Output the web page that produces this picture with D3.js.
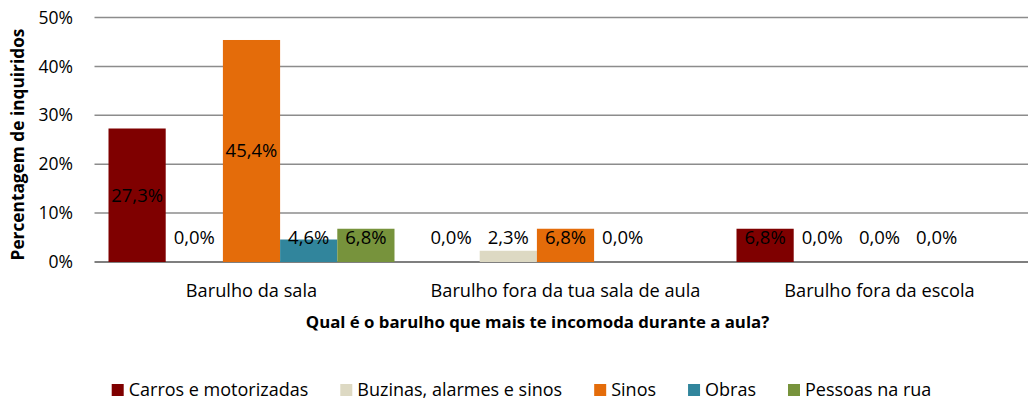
<!DOCTYPE html>
<html>
<head>
<meta charset="utf-8">
<script src="https://cdn.jsdelivr.net/npm/d3@7"></script>
<style>
  body { margin: 0; background: #fff; }
  svg { display: block; font-family: "Open Sans", sans-serif; }
</style>
</head>
<body>
<div id="chart"></div>
<script>
var categories = ["Barulho da sala", "Barulho fora da tua sala de aula", "Barulho fora da escola"];
var seriesNames = ["Carros e motorizadas", "Buzinas, alarmes e sinos", "Sinos", "Obras", "Pessoas na rua"];
var seriesColors = ["#7f0000", "#ddd9c3", "#e46c0a", "#31859c", "#77933c"];
// percentages per series, one per category (null = no value)
var carros = [27.3, 0.0, 6.8];
var buzinas = [0.0, 2.3, 0.0];
var sinos = [45.4, 6.8, 0.0];
var obras = [4.6, 0.0, 0.0];
var pessoas = [6.8, null, null];
var yTicks = [0, 10, 20, 30, 40, 50];

var seriesValues = [carros, buzinas, sinos, obras, pessoas];

var width = 1028, height = 401;

var svg = d3.select("#chart").append("svg")
    .attr("width", width)
    .attr("height", height);

var x0 = d3.scaleBand()
    .domain(categories)
    .range([94.5, 1036.5])
    .paddingInner(0.0892)
    .paddingOuter(0.0446);

var x1 = d3.scaleBand()
    .domain(seriesNames)
    .range([0, x0.bandwidth()]);

var y = d3.scaleLinear()
    .domain([0, 50])
    .range([262, 17.5]);

// gridlines
svg.append("g").selectAll("line")
    .data(yTicks)
    .enter().append("line")
    .attr("x1", 94.5)
    .attr("x2", width)
    .attr("y1", function(d) { return y(d); })
    .attr("y2", function(d) { return y(d); })
    .attr("stroke", function(d) { return d === 0 ? "#7f7f7f" : "#8c8c8c"; })
    .attr("stroke-width", function(d) { return d === 0 ? 2 : 1.5; });

// y tick labels
svg.append("g").selectAll("text")
    .data(yTicks)
    .enter().append("text")
    .attr("x", 73)
    .attr("y", function(d) { return y(d); })
    .attr("dy", "0.35em")
    .attr("text-anchor", "end")
    .attr("font-size", "17.5px")
    .attr("fill", "#000")
    .text(function(d) { return d + "%"; });

// bars
var rows = [];
seriesNames.forEach(function(s, si) {
  categories.forEach(function(c, ci) {
    rows.push({ series: s, cat: c, value: seriesValues[si][ci], color: seriesColors[si] });
  });
});
var present = rows.filter(function(d) { return d.value !== null; });

svg.append("g").selectAll("rect")
    .data(present.filter(function(d) { return d.value > 0; }))
    .enter().append("rect")
    .attr("x", function(d) { return x0(d.cat) + x1(d.series); })
    .attr("width", x1.bandwidth())
    .attr("y", function(d) { return y(d.value); })
    .attr("height", function(d) { return y(0) - y(d.value); })
    .attr("fill", function(d) { return d.color; });

// data labels
var fmt = function(v) { return v.toFixed(1).replace(".", ",") + "%"; };
svg.append("g").selectAll("text")
    .data(present)
    .enter().append("text")
    .attr("x", function(d) { return x0(d.cat) + x1(d.series) + x1.bandwidth() / 2; })
    .attr("y", function(d) { return Math.min(y(d.value / 2), y(0) - 24); })
    .attr("dy", "0.35em")
    .attr("text-anchor", "middle")
    .attr("font-size", "18.5px")
    .attr("fill", "#000")
    .text(function(d) { return fmt(d.value); });

// category labels
svg.append("g").selectAll("text")
    .data(categories)
    .enter().append("text")
    .attr("x", function(d) { return x0(d) + x0.bandwidth() / 2; })
    .attr("y", 291)
    .attr("dy", "0.35em")
    .attr("text-anchor", "middle")
    .attr("font-size", "18.2px")
    .attr("fill", "#000")
    .text(function(d) { return d; });

// axis titles
svg.append("text")
    .attr("x", 537.5)
    .attr("y", 322)
    .attr("dy", "0.35em")
    .attr("text-anchor", "middle")
    .attr("font-size", "16.8px")
    .attr("font-weight", "bold")
    .attr("fill", "#000")
    .text("Qual é o barulho que mais te incomoda durante a aula?");

svg.append("text")
    .attr("transform", "translate(18,144.5) rotate(-90)")
    .attr("dy", "0.35em")
    .attr("text-anchor", "middle")
    .attr("font-size", "17.3px")
    .attr("font-weight", "bold")
    .attr("fill", "#000")
    .text("Percentagem de inquiridos");

// legend
var legend = svg.append("g");
var items = legend.selectAll("g")
    .data(seriesNames)
    .enter().append("g");
items.append("rect")
    .attr("width", 12)
    .attr("height", 12)
    .attr("y", -6)
    .attr("fill", function(d, i) { return seriesColors[i]; });
items.append("text")
    .attr("x", 17)
    .attr("dy", "0.35em")
    .attr("font-size", "18px")
    .attr("fill", "#000")
    .text(function(d) { return d; });

var lx = 0;
items.each(function() {
  var w = this.getBBox().width;
  d3.select(this).attr("transform", "translate(" + lx + ",0)");
  lx += w + 32;
});
var totalW = lx - 32;
legend.attr("transform", "translate(" + (521.5 - totalW / 2) + ",390)");
</script>
</body>
</html>
